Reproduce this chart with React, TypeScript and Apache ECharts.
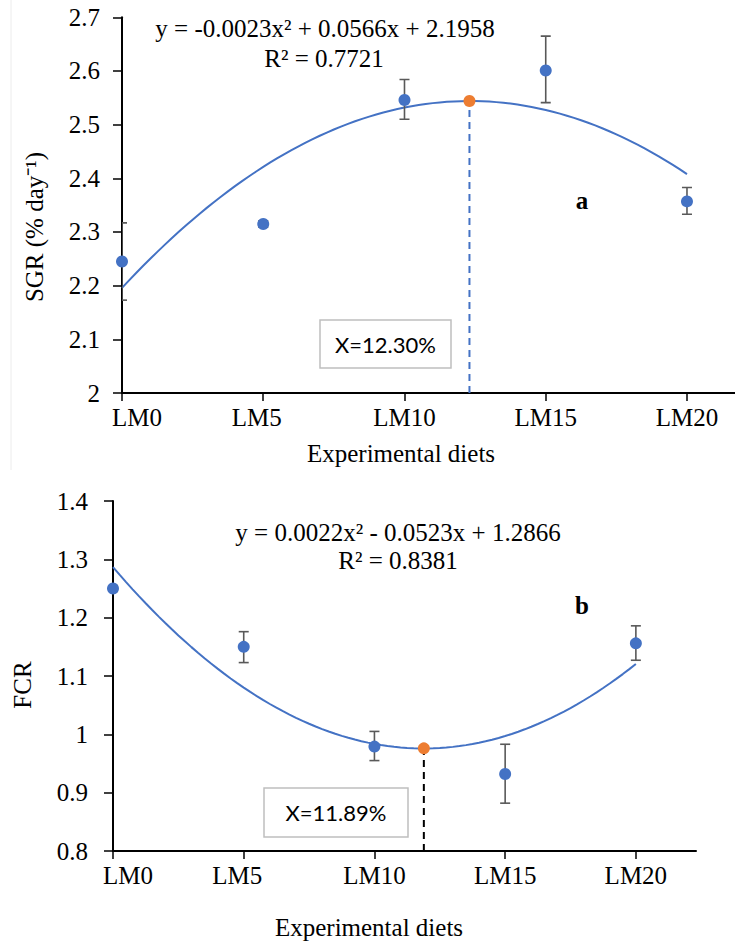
import React, { useEffect, useRef } from "react";
import * as echarts from "echarts";

const categories = ["LM0", "LM5", "LM10", "LM15", "LM20"];
const levels = [0, 5, 10, 15, 20];
const sgrMean = [2.245, 2.315, 2.546, 2.601, 2.357];
const sgrLow = [2.173, 2.309, 2.51, 2.541, 2.333];
const sgrHigh = [2.317, 2.321, 2.584, 2.665, 2.383];
const fcrMean = [1.25, 1.15, 0.979, 0.932, 1.156];
const fcrLow = [1.245, 1.123, 0.955, 0.882, 1.127];
const fcrHigh = [1.255, 1.176, 1.005, 0.983, 1.186];
const sgrCoef = [-0.0023, 0.0566, 2.1958];
const fcrCoef = [0.0022, -0.0523, 1.2866];
const sgrOpt = [12.3, 2.544];
const fcrOpt = [11.89, 0.976];
const sgrTicks = [2, 2.7, 0.1];
const fcrTicks = [0.8, 1.4, 0.1];

const BLUE = "#4472C4";
const ORANGE = "#ED7D31";
const ERR = "#595959";
const SERIF = "'Liberation Serif', 'Times New Roman', serif";

function trend(c: number[]) {
  const pts: number[][] = [];
  for (let i = 0; i <= 80; i++) {
    const x = (i * 20) / 80;
    pts.push([x, c[0] * x * x + c[1] * x + c[2]]);
  }
  return pts;
}

function errRender(params: any, api: any) {
  const x = api.value(0);
  const hi = api.coord([x, api.value(2)]);
  const lo = api.coord([x, api.value(1)]);
  const w = 5;
  const st = { stroke: ERR, lineWidth: 1.6 };
  return {
    type: "group",
    children: [
      { type: "line", shape: { x1: hi[0], y1: hi[1], x2: lo[0], y2: lo[1] }, style: st },
      { type: "line", shape: { x1: hi[0] - w, y1: hi[1], x2: hi[0] + w, y2: hi[1] }, style: st },
      { type: "line", shape: { x1: lo[0] - w, y1: lo[1], x2: lo[0] + w, y2: lo[1] }, style: st },
    ],
  };
}

function xAxisCfg(gridIndex: number, max: number) {
  return {
    type: "value",
    gridIndex,
    min: 0,
    max,
    interval: 5,
    splitLine: { show: false },
    axisLine: { lineStyle: { color: "#000", width: 2 } },
    axisTick: { show: true, length: 8, customValues: levels, lineStyle: { color: "#000", width: 1.5 } },
    axisLabel: {
      customValues: levels,
      margin: 12,
      color: "#000",
      fontFamily: SERIF,
      fontSize: 25,
      formatter: (v: number) => {
        const i = levels.indexOf(v);
        if (i < 0) return "";
        if (i === 0) return "{f|" + categories[i] + "}";
        if (i === 1) return "{s|" + categories[i] + "}";
        return categories[i];
      },
      rich: {
        f: { fontFamily: SERIF, fontSize: 25, color: "#000", padding: [0, 0, 0, 30] },
        s: { fontFamily: SERIF, fontSize: 25, color: "#000", padding: [0, 13, 0, 0] },
      },
    },
  };
}

function yAxisCfg(gridIndex: number, t: number[], margin: number) {
  return {
    type: "value",
    gridIndex,
    min: t[0],
    max: t[1],
    interval: t[2],
    splitLine: { show: false },
    axisLine: { show: true, lineStyle: { color: "#000", width: 2 } },
    axisTick: { show: true, length: 9, lineStyle: { color: "#000", width: 1.5 } },
    axisLabel: { margin, color: "#000", fontFamily: SERIF, fontSize: 25 },
  };
}

function seriesFor(idx: number, mean: number[], lo: number[], hi: number[], coef: number[], opt: number[], base: number, dashColor: string) {
  return [
    {
      type: "line",
      xAxisIndex: idx,
      yAxisIndex: idx,
      data: trend(coef),
      showSymbol: false,
      lineStyle: { color: BLUE, width: 2 },
      z: 3,
    },
    {
      type: "line",
      xAxisIndex: idx,
      yAxisIndex: idx,
      data: [[opt[0], base], [opt[0], opt[1]]],
      showSymbol: false,
      lineStyle: { color: dashColor, width: 2, type: [7, 5] },
      z: 2,
    },
    {
      type: "custom",
      xAxisIndex: idx,
      yAxisIndex: idx,
      renderItem: errRender,
      clip: true,
      data: levels.map((x, i) => [x, lo[i], hi[i]]),
      z: 4,
    },
    {
      type: "scatter",
      xAxisIndex: idx,
      yAxisIndex: idx,
      data: levels.map((x, i) => [x, mean[i]]),
      symbolSize: 12,
      itemStyle: { color: BLUE, opacity: 1 },
      z: 5,
    },
    {
      type: "scatter",
      xAxisIndex: idx,
      yAxisIndex: idx,
      data: [opt],
      symbolSize: 12,
      itemStyle: { color: ORANGE, opacity: 1 },
      z: 6,
    },
  ];
}

function txt(x: number, y: number, text: string, extra: any = {}, rotation = 0) {
  return {
    type: "text",
    x,
    y,
    rotation,
    style: {
      text,
      fill: "#000",
      font: `25px ${SERIF}`,
      align: "center",
      verticalAlign: "middle",
      ...extra,
    },
    z: 10,
  };
}

function box(x: number, y: number, w: number, h: number, text: string) {
  return {
    type: "group",
    x,
    y,
    z: 9,
    children: [
      { type: "rect", shape: { x: 0, y: 0, width: w, height: h }, style: { fill: "#fff", stroke: "#bfbfbf", lineWidth: 1.5 } },
      { type: "text", x: w / 2, y: h / 2, style: { text, font: "22px Lato, sans-serif", fill: "#000", align: "center", verticalAlign: "middle" } },
    ],
  };
}

export default function App() {
  const ref = useRef<HTMLDivElement>(null);
  useEffect(() => {
    if (!ref.current) return;
    const chart = echarts.init(ref.current, null, { renderer: "svg" });
    chart.setOption({
      animation: false,
      backgroundColor: "#fff",
      grid: [
        { left: 122, top: 17.3, height: 375.7, right: 0 },
        { left: 113, top: 501, height: 350, right: 39 },
      ],
      xAxis: [xAxisCfg(0, 21.7), xAxisCfg(1, 22.3)],
      yAxis: [yAxisCfg(0, sgrTicks, 22), yAxisCfg(1, fcrTicks, 25)],
      series: [
        ...seriesFor(0, sgrMean, sgrLow, sgrHigh, sgrCoef, sgrOpt, sgrTicks[0], BLUE),
        ...seriesFor(1, fcrMean, fcrLow, fcrHigh, fcrCoef, fcrOpt, fcrTicks[0], "#000"),
      ],
      graphic: [
        { type: "line", shape: { x1: 11, y1: 0, x2: 11, y2: 470 }, style: { stroke: "#ececec", lineWidth: 1 } },
        txt(325, 28, "y = -0.0023x² + 0.0566x + 2.1958"),
        txt(324, 58, "R² = 0.7721"),
        txt(582, 200, "a", { font: `bold 25px ${SERIF}` }),
        txt(34, 227, "SGR (% day⁻¹)", {}, Math.PI / 2),
        txt(401, 453, "Experimental diets"),
        box(320, 320, 131, 48, "X=12.30%"),
        txt(398, 532, "y = 0.0022x² - 0.0523x + 1.2866"),
        txt(398, 560, "R² = 0.8381"),
        txt(582, 605, "b", { font: `bold 25px ${SERIF}` }),
        txt(22, 685, "FCR", {}, Math.PI / 2),
        txt(369, 927, "Experimental diets"),
        box(264, 788, 144, 49, "X=11.89%"),
      ],
    });
    return () => chart.dispose();
  }, []);
  return <div ref={ref} style={{ position: "fixed", left: 0, top: 0, width: 735, height: 943 }} />;
}
